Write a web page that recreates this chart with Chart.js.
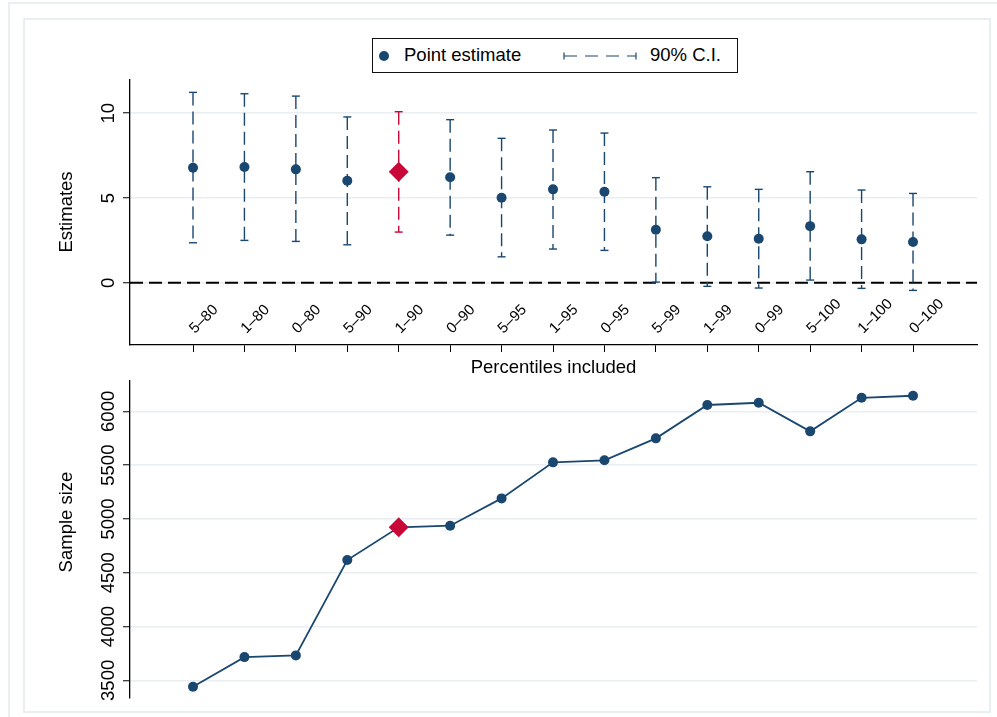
<!DOCTYPE html>
<html>
<head>
<meta charset="utf-8">
<script src="https://cdn.jsdelivr.net/npm/chart.js@4.4.1/dist/chart.umd.min.js"></script>
<style>
  html, body { margin:0; padding:0; background:#fff; }
  #wrap { position:relative; width:997px; height:717px; overflow:hidden; background:#fff; }
  canvas { position:absolute; left:0; top:0; }
  .frame { position:absolute; box-sizing:border-box; }
  #legend { position:absolute; left:372px; top:38px; width:366px; height:35px; border:1px solid #111; box-sizing:border-box; background:#fff;
            font-family:'Liberation Sans', Arial, Helvetica, sans-serif; font-size:18.5px; color:#000; }
  #legend span { position:absolute; top:5px; white-space:nowrap; line-height:22px; }
</style>
</head>
<body>
<div id="wrap">
  <div class="frame" style="left:8px;top:2px;width:1000px;height:730px;border:2px solid #e9eff1;"></div>
  <div class="frame" style="left:23px;top:18px;width:968px;height:695px;border:2px solid #e9eff1;"></div>
  <canvas id="top" width="997" height="717"></canvas>
  <canvas id="bot" width="997" height="717"></canvas>
  <div id="legend">
    <svg style="position:absolute;left:5px;top:11px" width="12" height="12"><circle cx="6" cy="6" r="5" fill="#1a476f"/></svg>
    <span style="left:31px">Point estimate</span>
    <svg style="position:absolute;left:189px;top:11px" width="76" height="12">
      <line x1="2" y1="2.5" x2="2" y2="9.5" stroke="#1a476f" stroke-width="1.2"/>
      <line x1="2" y1="6" x2="74" y2="6" stroke="#1a476f" stroke-width="1.2" stroke-dasharray="13 8"/>
      <line x1="74" y1="2.5" x2="74" y2="9.5" stroke="#1a476f" stroke-width="1.2"/>
    </svg>
    <span style="left:277px">90% C.I.</span>
  </div>
</div>
<script>
// ---------- data ----------
const categories = ['5–80','1–80','0–80','5–90','1–90','0–90','5–95','1–95','0–95','5–99','1–99','0–99','5–100','1–100','0–100'];
const estimates  = [6.78, 6.83, 6.69, 6.02, 6.55, 6.22, 5.02, 5.51, 5.37, 3.13, 2.74, 2.60, 3.34, 2.56, 2.40];
const ciLow      = [2.36, 2.50, 2.44, 2.24, 2.99, 2.81, 1.53, 1.99, 1.91, 0.04, -0.21, -0.31, 0.16, -0.33, -0.45];
const ciHigh     = [11.23, 11.15, 11.01, 9.78, 10.09, 9.62, 8.52, 9.01, 8.83, 6.20, 5.66, 5.51, 6.55, 5.47, 5.27];
const sampleSize = [3441, 3716, 3732, 4618, 4922, 4937, 5191, 5526, 5545, 5749, 6059, 6080, 5814, 6126, 6145];
const estTicks   = [0, 5, 10];
const sizeTicks  = [3500, 4000, 4500, 5000, 5500, 6000];
const highlightIndex = 4; // 1–90
const refValue = 0;

// ---------- styles ----------
const NAVY = '#1a476f';
const RED = '#c80838';
const GRID = '#e8eef1';
const FONT = "'Liberation Sans', Arial, Helvetica, sans-serif";
const X_MIN = -0.225, X_MAX = 16.244;

const xs = categories.map((_, i) => i + 1);
const ptColor = categories.map((_, i) => i === highlightIndex ? RED : NAVY);
const ptStyle = categories.map((_, i) => i === highlightIndex ? 'rectRot' : 'circle');
const ptRadius = categories.map((_, i) => i === highlightIndex ? 10 : 5);

const ciData = [];
categories.forEach((c, i) => {
  ciData.push({x: xs[i], y: ciHigh[i]}, {x: xs[i], y: ciLow[i]}, {x: xs[i], y: null});
});
const ciCat = idx => Math.floor(idx / 3);

function setTicks(values) {
  return s => { s.ticks = values.map(v => ({value: v})); };
}

const textPlugin = {
  id: 'textPlugin',
  afterDraw(chart, args, opts) {
    const ctx = chart.ctx;
    const y = chart.scales.y, x = chart.scales.x;
    ctx.save();
    ctx.fillStyle = '#000';
    // y tick labels (rotated)
    ctx.font = '18.5px ' + FONT;
    opts.yTicks.forEach(v => {
      ctx.save();
      ctx.translate(114, y.getPixelForValue(v));
      ctx.rotate(-Math.PI / 2);
      ctx.textAlign = 'center';
      ctx.textBaseline = 'alphabetic';
      ctx.fillText(String(v), 0, 0);
      ctx.restore();
    });
    // y title
    ctx.save();
    ctx.translate(67, opts.yTitleY);
    ctx.rotate(-Math.PI / 2);
    ctx.textAlign = 'center';
    ctx.textBaseline = 'middle';
    ctx.fillText(opts.yTitle, 0, 0);
    ctx.restore();
    if (opts.xLabels) {
      ctx.font = '15px ' + FONT;
      opts.xLabels.forEach((lab, i) => {
        ctx.save();
        ctx.translate(x.getPixelForValue(i + 1) + 2, 334);
        ctx.rotate(-Math.PI / 4);
        ctx.textAlign = 'left';
        ctx.textBaseline = 'alphabetic';
        ctx.fillText(lab, 0, 0);
        ctx.restore();
      });
      ctx.font = '18.5px ' + FONT;
      ctx.textAlign = 'center';
      ctx.textBaseline = 'middle';
      ctx.fillText(opts.xTitle, (chart.chartArea.left + chart.chartArea.right) / 2, 368);
    }
    ctx.restore();
  }
};

const refLinePlugin = {
  id: 'refLine',
  beforeDatasetsDraw(chart, args, opts) {
    if (opts.value === undefined) return;
    const ctx = chart.ctx, a = chart.chartArea;
    const py = chart.scales.y.getPixelForValue(opts.value);
    ctx.save();
    ctx.strokeStyle = '#000';
    ctx.lineWidth = 2;
    ctx.setLineDash([13, 6]);
    ctx.beginPath();
    ctx.moveTo(a.left, py);
    ctx.lineTo(a.right, py);
    ctx.stroke();
    ctx.restore();
  }
};

Chart.register(textPlugin, refLinePlugin);

// ---------- top chart ----------
new Chart(document.getElementById('top'), {
  type: 'line',
  data: {
    datasets: [
      {
        label: 'Point estimate',
        data: xs.map((x, i) => ({x, y: estimates[i]})),
        showLine: false,
        pointStyle: ptStyle,
        pointRadius: ptRadius,
        pointBackgroundColor: ptColor,
        pointBorderColor: ptColor,
        pointBorderWidth: 0,
        order: 0
      },
      {
        label: '90% C.I.',
        data: ciData,
        borderColor: NAVY,
        borderWidth: 1.4,
        borderDash: [13, 6],
        spanGaps: false,
        segment: {
          borderColor: c => ciCat(c.p0DataIndex) === highlightIndex ? RED : NAVY
        },
        pointStyle: 'line',
        pointRadius: 4,
        pointBorderWidth: 1.4,
        pointBorderColor: c => ciCat(c.dataIndex) === highlightIndex ? RED : NAVY,
        order: 1
      }
    ]
  },
  options: {
    responsive: false,
    animation: false,
    layout: { padding: { left: 0, right: 20, top: 80, bottom: 362 } },
    plugins: {
      legend: { display: false },
      tooltip: { enabled: false },
      refLine: { value: refValue },
      textPlugin: { yTicks: estTicks, yTitle: 'Estimates', yTitleY: 212, xLabels: categories, xTitle: 'Percentiles included' }
    },
    scales: {
      x: {
        type: 'linear', min: X_MIN, max: X_MAX,
        afterBuildTicks: setTicks(xs),
        afterFit: s => { s.height = 10; },
        ticks: { display: false },
        grid: { drawOnChartArea: false, drawTicks: true, tickLength: 7, tickColor: '#000', tickWidth: 1 },
        border: { display: true, color: '#000', width: 1.3 }
      },
      y: {
        type: 'linear', min: -3.67, max: 11.96,
        afterBuildTicks: setTicks(estTicks),
        afterFit: s => { s.width = 130; },
        ticks: { display: false },
        grid: { color: GRID, lineWidth: 1.5, drawTicks: true, tickLength: 7, tickColor: '#000', tickWidth: 1 },
        border: { display: true, color: '#000', width: 1.3 }
      }
    }
  }
});

// ---------- bottom chart ----------
new Chart(document.getElementById('bot'), {
  type: 'line',
  data: {
    datasets: [{
      label: 'Sample size',
      data: xs.map((x, i) => ({x, y: sampleSize[i]})),
      borderColor: NAVY,
      borderWidth: 1.8,
      pointStyle: ptStyle,
      pointRadius: ptRadius,
      pointBackgroundColor: ptColor,
      pointBorderColor: ptColor,
      pointBorderWidth: 0,
      tension: 0
    }]
  },
  options: {
    responsive: false,
    animation: false,
    layout: { padding: { left: 0, right: 20, top: 381, bottom: 19 } },
    plugins: {
      legend: { display: false },
      tooltip: { enabled: false },
      textPlugin: { yTicks: sizeTicks, yTitle: 'Sample size', yTitleY: 522 }
    },
    scales: {
      x: {
        type: 'linear', min: X_MIN, max: X_MAX,
        display: false
      },
      y: {
        type: 'linear', min: 3336, max: 6282,
        afterBuildTicks: setTicks(sizeTicks),
        afterFit: s => { s.width = 130; },
        ticks: { display: false },
        grid: { color: GRID, lineWidth: 1.5, drawTicks: true, tickLength: 7, tickColor: '#000', tickWidth: 1 },
        border: { display: true, color: '#000', width: 1.3 }
      }
    }
  }
});
</script>
</body>
</html>
